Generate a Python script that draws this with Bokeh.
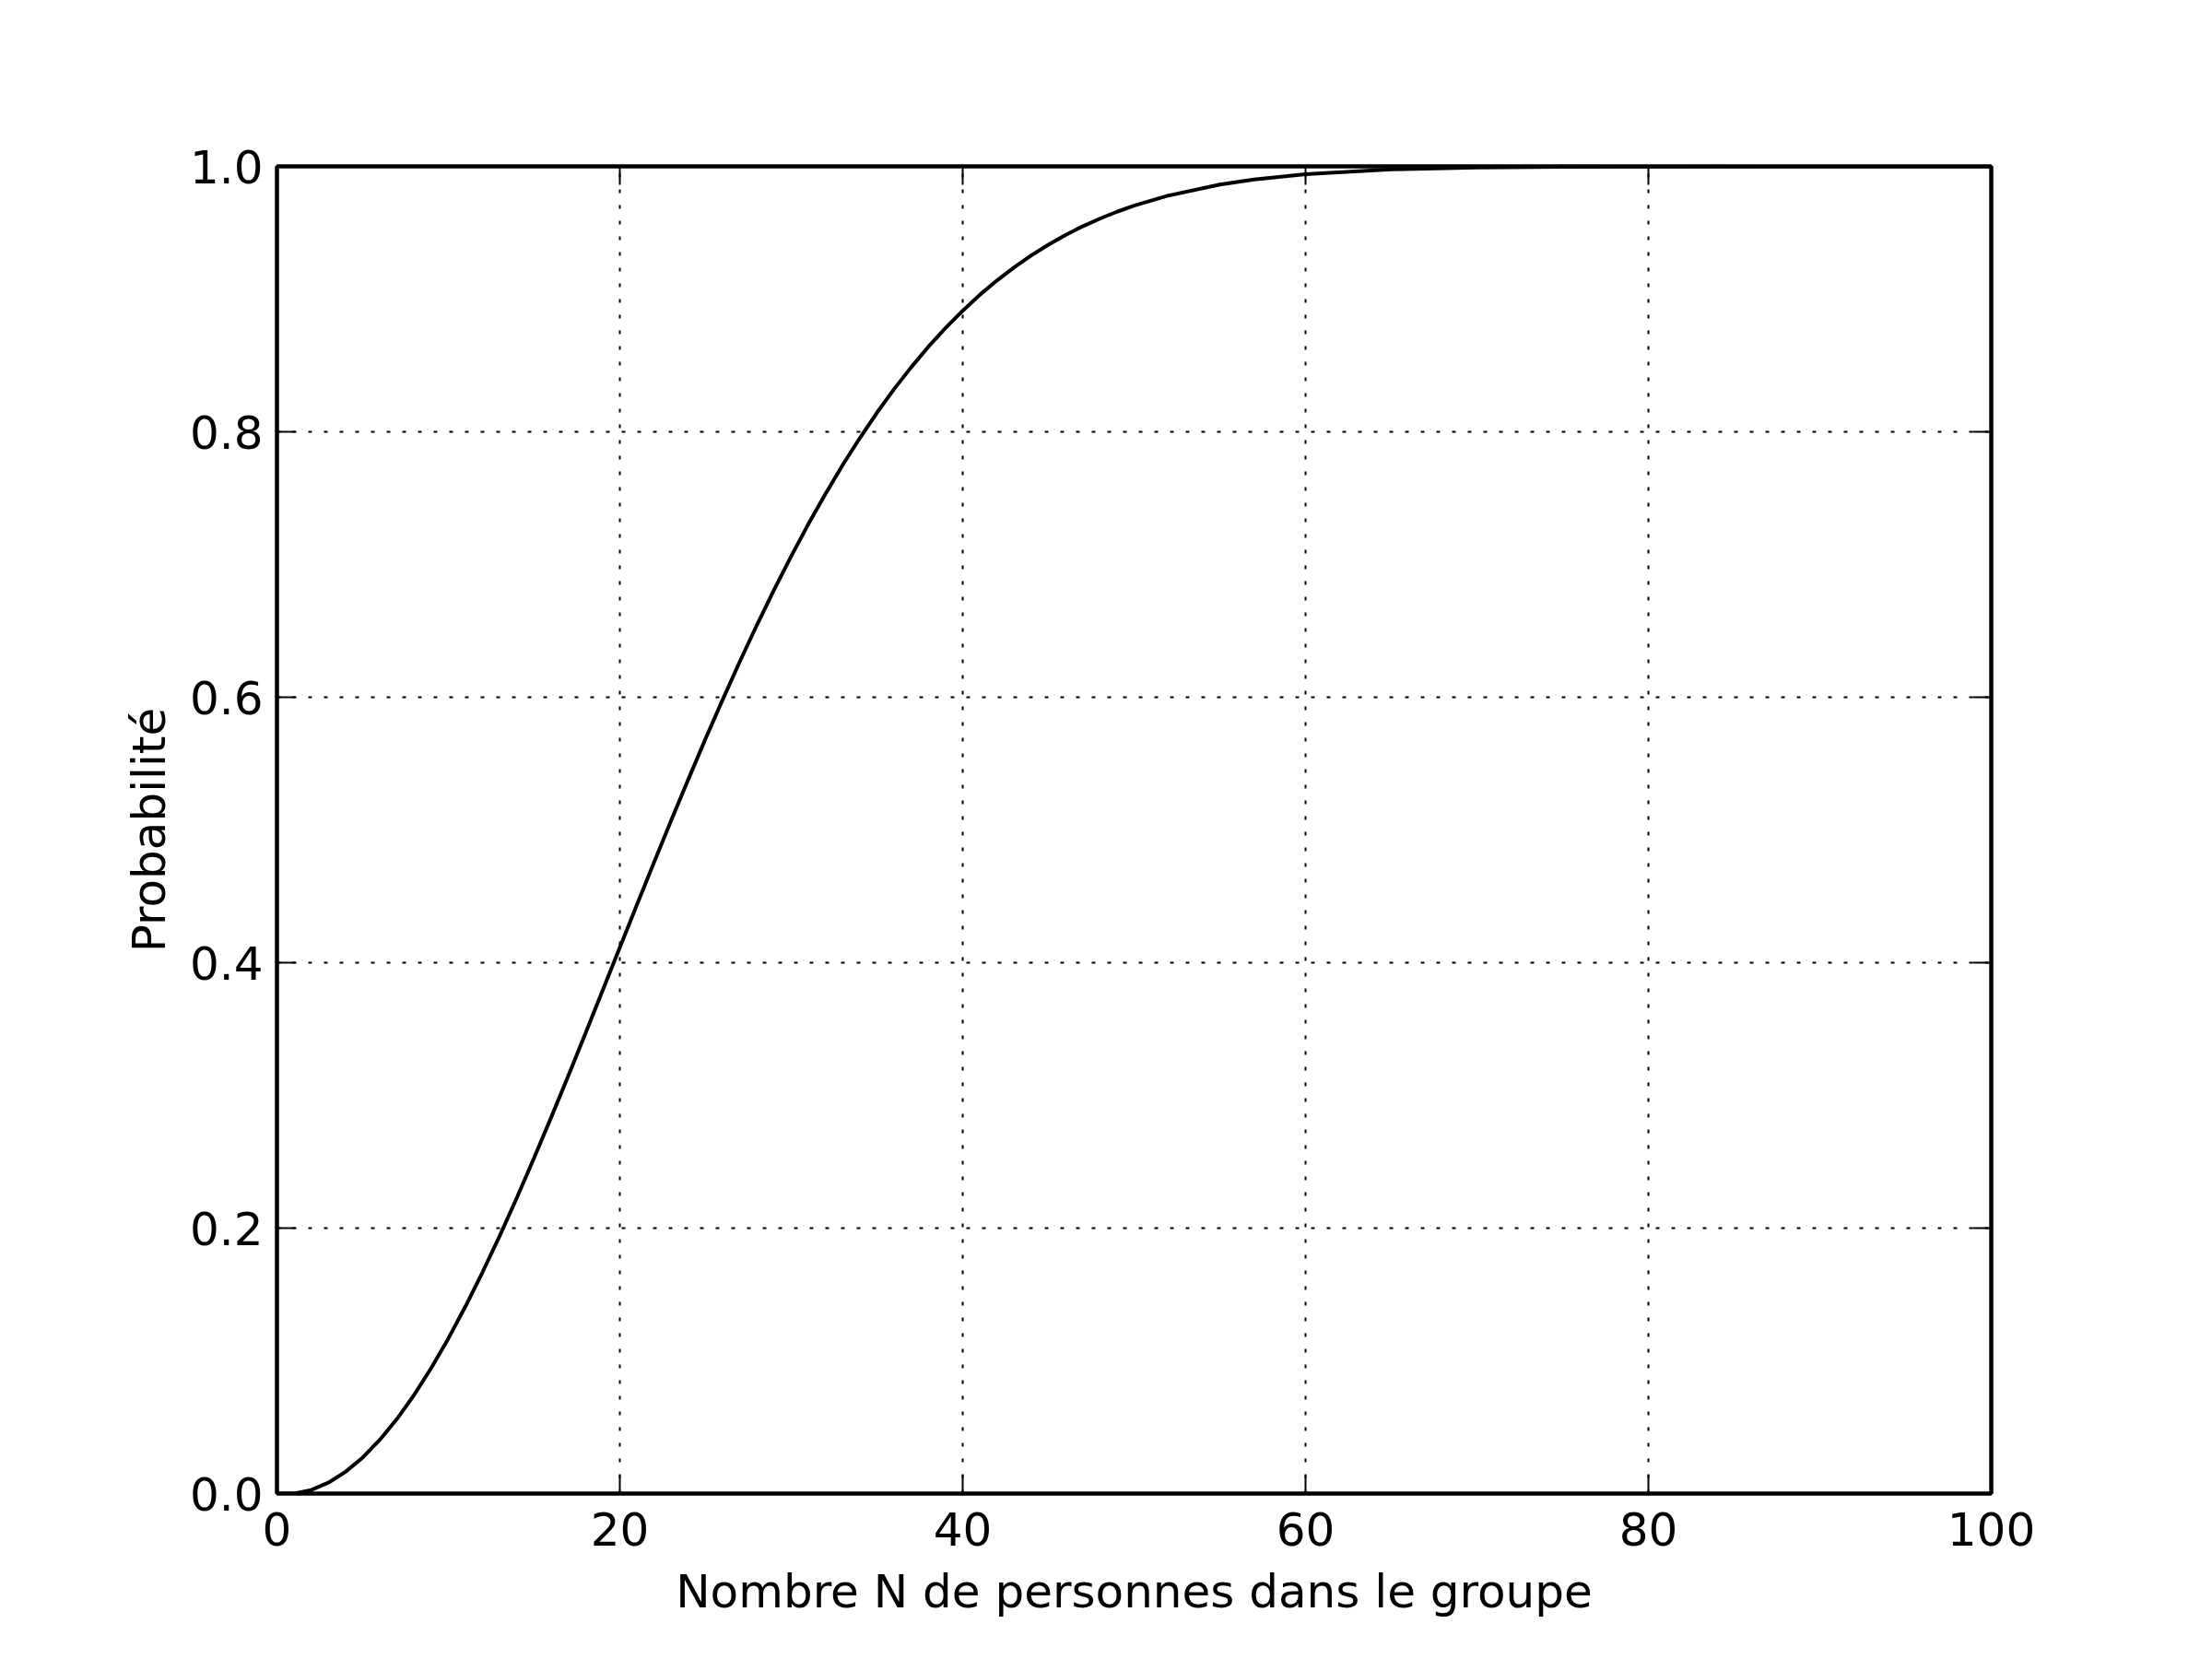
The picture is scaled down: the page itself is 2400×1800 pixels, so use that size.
from bokeh.plotting import figure
from bokeh.models import LinearAxis, FixedTicker, PrintfTickFormatter, Range1d
from bokeh.embed import file_html
from bokeh.resources import INLINE

# Data (probability of a shared birthday vs group size)
group_size = [0, 1, 2, 3, 4, 5, 6, 7, 8, 9, 10, 11, 12, 13, 14, 15, 16, 17, 18, 19,
              20, 21, 22, 23, 24, 25, 26, 27, 28, 29, 30, 31, 32, 33, 34, 35, 36, 37,
              38, 39, 40, 41, 42, 43, 44, 45, 46, 47, 48, 49, 50, 52, 55, 57, 60, 65,
              70, 75, 80, 90, 100]
probability = [0.0, 0.0, 0.0027, 0.0082, 0.0164, 0.0271, 0.0405, 0.0562, 0.0743, 0.0946,
               0.1169, 0.1411, 0.1670, 0.1944, 0.2231, 0.2529, 0.2836, 0.3150, 0.3469,
               0.3791, 0.4114, 0.4437, 0.4757, 0.5073, 0.5383, 0.5687, 0.5982, 0.6269,
               0.6545, 0.6810, 0.7063, 0.7305, 0.7533, 0.7750, 0.7953, 0.8144, 0.8322,
               0.8487, 0.8641, 0.8782, 0.8912, 0.9032, 0.9140, 0.9239, 0.9329, 0.9410,
               0.9483, 0.9548, 0.9606, 0.9658, 0.9704, 0.9780, 0.9863, 0.9901, 0.9941,
               0.9977, 0.9992, 0.9997, 0.99991, 0.999994, 0.9999997]

x_ticks = [0, 20, 40, 60, 80, 100]
y_ticks = [0.0, 0.2, 0.4, 0.6, 0.8, 1.0]
x_label = "Nombre N de personnes dans le groupe"
y_label = "Probabilité"

FONT = "DejaVu Sans"
FS = "50px"

p = figure(width=2392, height=1792, output_backend="svg", toolbar_location=None,
           x_range=Range1d(0, 100), y_range=Range1d(0, 1),
           min_border_left=300, min_border_right=232, min_border_top=180, min_border_bottom=172,
           x_axis_location=None, y_axis_location=None)
p.background_fill_color = "white"
p.border_fill_color = "white"
p.outline_line_color = "black"
p.outline_line_width = 4

def style_axis(ax, show_labels):
    ax.axis_line_color = "black"
    ax.axis_line_width = 4
    ax.major_tick_in = 20
    ax.major_tick_out = 0
    ax.major_tick_line_width = 2
    ax.major_tick_line_color = "black"
    ax.minor_tick_line_color = None
    ax.major_label_text_font = FONT
    ax.major_label_text_font_size = FS
    ax.major_label_text_color = "black"
    ax.axis_label_text_font = FONT
    ax.axis_label_text_font_size = FS
    ax.axis_label_text_font_style = "normal"
    ax.axis_label_text_color = "black"
    if not show_labels:
        ax.major_label_text_font_size = "0px"
        ax.major_label_text_alpha = 0

xb = LinearAxis(ticker=FixedTicker(ticks=x_ticks), axis_label=x_label)
style_axis(xb, True)
xb.major_label_standoff = 20
xb.axis_label_standoff = 18
p.add_layout(xb, "below")

yl = LinearAxis(ticker=FixedTicker(ticks=y_ticks), axis_label=y_label,
                formatter=PrintfTickFormatter(format="%.1f"))
style_axis(yl, True)
yl.major_label_standoff = 15
yl.axis_label_standoff = 12
p.add_layout(yl, "left")

xt = LinearAxis(ticker=FixedTicker(ticks=x_ticks))
style_axis(xt, False)
p.add_layout(xt, "above")

yr = LinearAxis(ticker=FixedTicker(ticks=y_ticks))
style_axis(yr, False)
p.add_layout(yr, "right")

for g in (p.xgrid, p.ygrid):
    g.grid_line_color = "black"
    g.grid_line_width = 2
    g.grid_line_dash = "4 13"
p.xgrid.ticker = FixedTicker(ticks=x_ticks)
p.ygrid.ticker = FixedTicker(ticks=y_ticks)

p.line(group_size, probability, line_color="black", line_width=4)

open("out.html", "w").write(file_html(p, INLINE))
